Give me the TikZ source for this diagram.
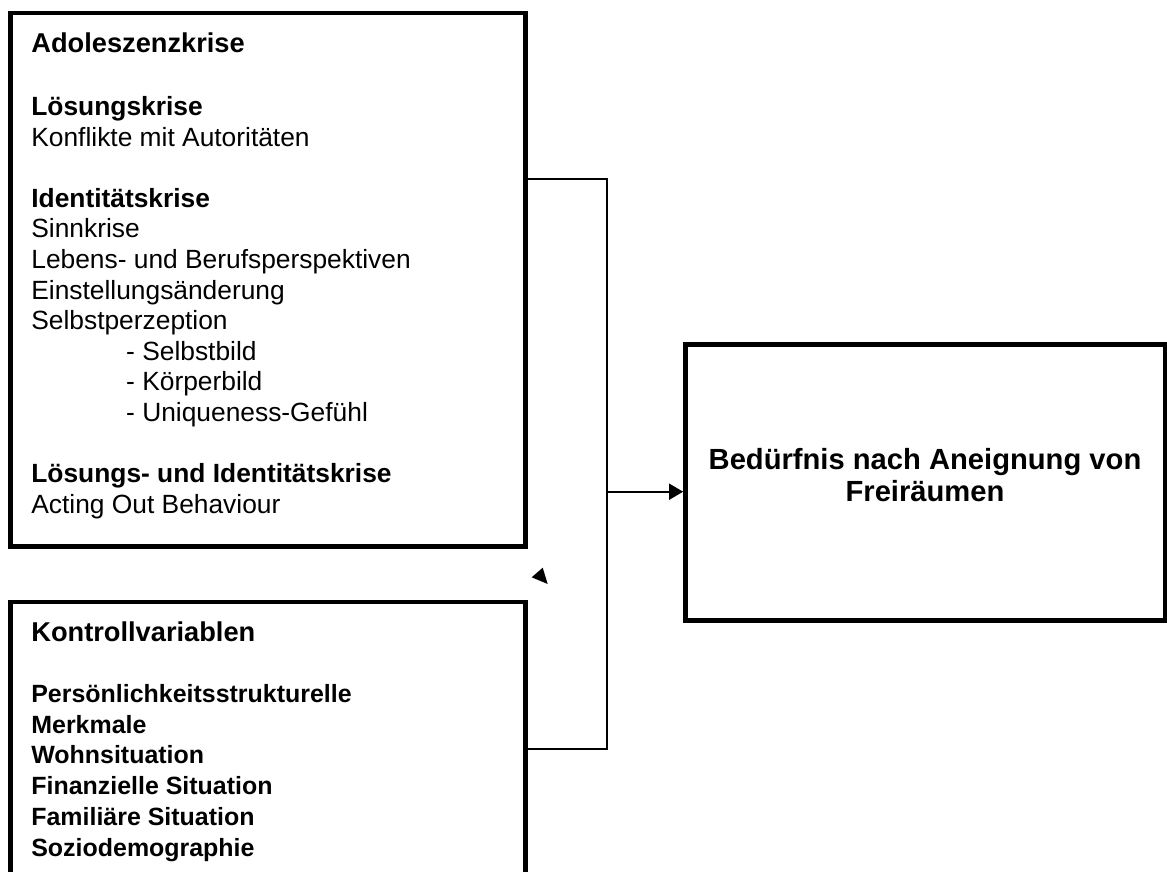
\documentclass[tikz,border=0pt]{standalone}
\usepackage{fontspec}
\setmainfont{Liberation Sans}
\usetikzlibrary{positioning,arrows.meta,calc}

\begin{document}
\begin{tikzpicture}[x=0.02cm,y=-0.02cm,
    box/.style={draw,line width=2.7pt,inner sep=0pt},
    conn/.style={line width=1.3pt},
    headtxt/.style={anchor=base west,inner sep=0pt,font=\fontsize{15.5}{18}\selectfont\bfseries},
    bodytxt/.style={anchor=base west,inner sep=0pt,align=left}]
        \clip (0,0) rectangle (1167,872);
        \node[box,minimum width=10.3cm,minimum height=10.674cm] (adol) at (268,279.85) {};
        \node[box,minimum width=10.3cm,minimum height=6cm] (kontr) at (268,752) {};
        \node[box,minimum width=9.59cm,minimum height=5.52cm] (bed) at (925.25,482.5) {};
        \node[headtxt] (adolhead) at (31,52) {Adoleszenzkrise};
        \node[bodytxt,font=\fontsize{15}{17.4}\selectfont] (adolbody) at (31,513) {\textbf{Lösungskrise}\\
            Konflikte mit Autoritäten\\[17.4pt]
            \textbf{Identitätskrise}\\
            Sinnkrise\\
            Lebens- und Berufsperspektiven\\
            Einstellungsänderung\\
            Selbstperzeption\\
            \hspace*{54pt}- Selbstbild\\
            \hspace*{54pt}- Körperbild\\
            \hspace*{54pt}- Uniqueness-Gefühl\\[17.4pt]
            \textbf{Lösungs- und Identitätskrise}\\
            Acting Out Behaviour};
        \node[headtxt] (kontrhead) at (31,641) {Kontrollvariablen};
        \node[bodytxt,font=\fontsize{14.2}{17.5}\selectfont\bfseries] (kontrbody) at (31,856) {Persönlichkeitsstrukturelle\\
            Merkmale\\
            Wohnsituation\\
            Finanzielle Situation\\
            Familiäre Situation\\
            Soziodemographie};
        \node[anchor=base,inner sep=0pt,align=center,font=\fontsize{16.6}{18.44}\selectfont\bfseries] (bedtext) at (925,501.7) {Bedürfnis nach Aneignung von\\Freiräumen};
        \coordinate (top) at (607,179);
        \coordinate (bottom) at (607,749);
        \coordinate (mid) at (607,491.7);
        \draw[conn] (adol.east |- top) -- (top) -- (bottom) -- (kontr.east |- bottom);
        \draw[conn,-{Triangle[length=8pt,width=9pt]}] (mid) -- (bed.west |- mid);
        \fill (531.7,577.3) -- (542.7,567.7) -- (547.7,584) -- cycle;
    \end{tikzpicture}
\end{document}
